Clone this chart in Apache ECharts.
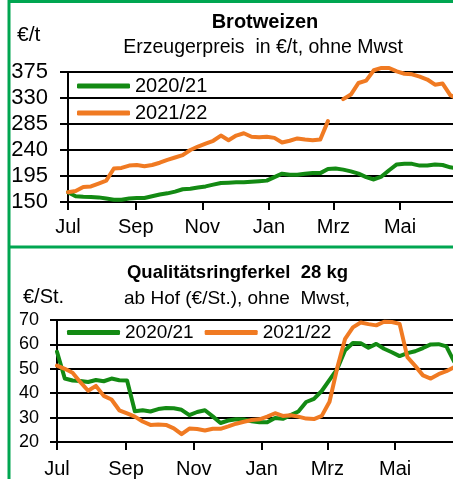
<!DOCTYPE html>
<html>
<head>
<meta charset="utf-8">
<script src="https://cdn.jsdelivr.net/npm/echarts@6/dist/echarts.min.js"></script>
<style>
html,body{margin:0;padding:0;background:#fff;}
#c{width:453px;height:479px;}
</style>
</head>
<body>
<div id="c"></div>
<script>
// ---- data (weekly, starting 1 July) ----
const seriesNames = ['2020/21', '2021/22'];
const monthLabels = ['Jul', 'Sep', 'Nov', 'Jan', 'Mrz', 'Mai'];
const monthDays = [0, 62, 123, 184, 243, 304];           // day offset of month start from 1 July
const wheatTicks = [150, 195, 240, 285, 330, 375];

const wheat2021 = [167,160,159,158.5,158,156,154,154,156,157,157,160,163,165,168,172,173,175,177,180,
  183,183.5,184,184,185,186,187,193,199,197,197,199,200,200,207,208,206,203,199,193,
  189,194,205,215,216,216,213,213,215,214,210,208];
const wheat2122 = [167,169,176,177,182,187,208,209,213,214,212,214,218,223,227,231,240,246,251,256,
  265,257,265,269,263,262,263,261,253,256,260,258,257,258,290,null,328,336,356,360,
  378,382,382,376,372,371,367,362,353,355,335,328];

const pig2021 = [57,46,45.2,45,44.6,45.4,44.9,46,45.3,45.2,32.6,33,32.5,33.5,33.9,33.8,33.2,31,32.3,33,
  30.5,27.8,28.8,29.3,29.2,28.5,28.1,28.1,29.8,29.5,31,32.5,36.4,37.7,40.9,45.5,50,57.6,60.6,60.5,
  58.6,60.2,58.2,56.8,55.2,56.4,57.2,58.5,60,60.1,59.2,53];
const pig2122 = [51.3,50,48.4,44.5,41,43,38.9,37.4,33,31.7,30.4,28.4,27,27.2,27,25.6,23.2,25.5,25.3,24.7,
  25.4,25.4,26.4,27.5,28.3,29,29.3,30.4,31.8,30.7,31,30.4,29.6,29.4,30.7,36.5,50.5,62.3,67,69,
  68.3,67.8,69.3,69.2,68.4,54.8,51.2,47.3,46,47.8,49,50.7];

const GREEN = '#138a13';
const ORANGE = '#f07a22';
const BORDER = '#00a651';
const SANS = '"Liberation Sans",Arial,sans-serif';

const toPairs = arr => arr.map((v, i) => [i * 7, v]);
const monthName = v => { const k = monthDays.indexOf(Math.round(v)); return k >= 0 ? monthLabels[k] : ''; };

function xAxisCfg(gridIndex, max, margin) {
  return {
    type: 'value', gridIndex, min: 0, max,
    axisLine: {show: true, lineStyle: {color: '#000', width: 2}},
    axisTick: {show: true, length: 8, lineStyle: {color: '#000', width: 2}, customValues: monthDays},
    axisLabel: {customValues: monthDays, formatter: monthName, color: '#000',
      fontFamily: SANS, fontSize: 20, margin},
    splitLine: {show: false}
  };
}
function lineSeries(name, data, color, xi, yi) {
  return {
    name, type: 'line', data: toPairs(data), xAxisIndex: xi, yAxisIndex: yi,
    symbol: 'none', connectNulls: false, clip: false, color,
    lineStyle: {width: 4, color, cap: 'round', join: 'round'}
  };
}

const chart = echarts.init(document.getElementById('c'), null, {renderer: 'canvas'});
chart.setOption({
  animation: false,
  backgroundColor: '#fff',
  grid: [
    {left: 68, top: 72, right: 0, height: 130},
    {left: 57, top: 320, right: 0, height: 124.5}
  ],
  xAxis: [xAxisCfg(0, 352.5, 15), xAxisCfg(1, 356, 17)],
  yAxis: [
    {type: 'value', gridIndex: 0, min: 150, max: 375,
      axisLine: {show: true, lineStyle: {color: '#000', width: 2}},
      axisTick: {show: true, length: 8, lineStyle: {color: '#000', width: 2}, customValues: wheatTicks},
      axisLabel: {customValues: wheatTicks, color: '#000', fontFamily: SANS, fontSize: 22, margin: 20},
      splitLine: {show: true, lineStyle: {color: '#000', width: 2}}},
    {type: 'value', gridIndex: 1, min: 20, max: 70, interval: 10,
      axisLine: {show: true, lineStyle: {color: '#000', width: 2}},
      axisTick: {show: true, length: 7, lineStyle: {color: '#000', width: 2}},
      axisLabel: {color: '#000', fontFamily: SANS, fontSize: 18, margin: 18},
      splitLine: {show: true, lineStyle: {color: '#000', width: 2}}}
  ],
  legend: [
    {orient: 'vertical', left: 77, top: 76, padding: 0, itemGap: 7, itemWidth: 53, itemHeight: 5,
      icon: 'roundRect', data: seriesNames,
      textStyle: {color: '#000', fontFamily: SANS, fontSize: 20}},
    {orient: 'horizontal', left: 67, top: 323, padding: 0, itemGap: 11, itemWidth: 53, itemHeight: 5,
      icon: 'roundRect', data: seriesNames.map(n => ({name: n})),
      textStyle: {color: '#000', fontFamily: SANS, fontSize: 19}}
  ],
  series: [
    lineSeries(seriesNames[0], wheat2021, GREEN, 0, 0),
    lineSeries(seriesNames[1], wheat2122, ORANGE, 0, 0),
    lineSeries(seriesNames[0], pig2021, GREEN, 1, 1),
    lineSeries(seriesNames[1], pig2122, ORANGE, 1, 1)
  ],
  graphic: [
    {type: 'line', shape: {x1: 9, y1: 0, x2: 9, y2: 479}, style: {stroke: BORDER, lineWidth: 3}},
    {type: 'line', shape: {x1: 8, y1: 1.5, x2: 453, y2: 1.5}, style: {stroke: BORDER, lineWidth: 3}},
    {type: 'line', shape: {x1: 8, y1: 247, x2: 453, y2: 247}, style: {stroke: BORDER, lineWidth: 3}},
    {type: 'text', x: 265, y: 22.5, style: {text: 'Brotweizen', fill: '#000', align: 'center', verticalAlign: 'middle',
      font: 'bold 20px ' + SANS}},
    {type: 'text', x: 263, y: 47.5, style: {text: 'Erzeugerpreis  in €/t, ohne Mwst', fill: '#000', align: 'center', verticalAlign: 'middle',
      font: '19.5px ' + SANS}},
    {type: 'text', x: 17, y: 35, style: {text: '€/t', fill: '#000', align: 'left', verticalAlign: 'middle',
      font: '21px ' + SANS}},
    {type: 'text', x: 237.5, y: 272.5, style: {text: 'Qualitätsringferkel  28 kg', fill: '#000', align: 'center', verticalAlign: 'middle',
      font: 'bold 18.5px ' + SANS}},
    {type: 'text', x: 237, y: 299, style: {text: 'ab Hof (€/St.), ohne  Mwst,', fill: '#000', align: 'center', verticalAlign: 'middle',
      font: '19px ' + SANS}},
    {type: 'text', x: 23, y: 297, style: {text: '€/St.', fill: '#000', align: 'left', verticalAlign: 'middle',
      font: '20px ' + SANS}}
  ]
});
</script>
</body>
</html>
